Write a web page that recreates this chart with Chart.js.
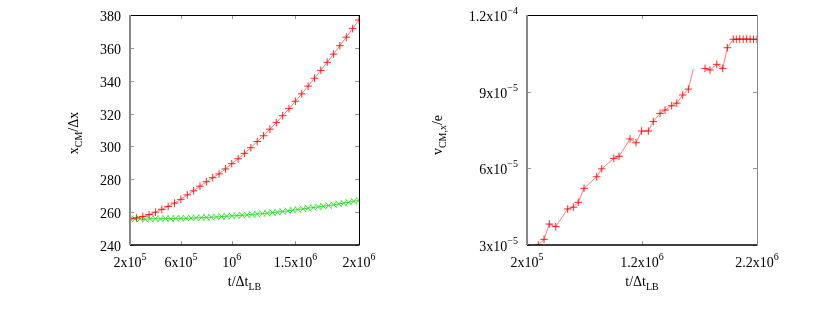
<!DOCTYPE html>
<html>
<head>
<meta charset="utf-8">
<script src="https://cdn.jsdelivr.net/npm/chart.js@4/dist/chart.umd.min.js"></script>
<style>
html,body{margin:0;padding:0;background:#fff;}
#wrap{position:relative;width:830px;height:310px;}
.box{position:absolute;top:0;width:415px;height:310px;}
</style>
</head>
<body>
<div id="wrap">
  <div class="box" style="left:0"><canvas id="c1" width="415" height="310"></canvas></div>
  <div class="box" style="left:415px"><canvas id="c2" width="415" height="310"></canvas></div>
</div>
<script>
// ---------- Left panel data ----------
const leftRedT = [2.0e5,2.5e5,3.0e5,3.5e5,4.0e5,4.5e5,5.0e5,5.5e5,6.0e5,6.5e5,7.0e5,7.5e5,8.0e5,8.5e5,9.0e5,9.5e5,
  1.0e6,1.05e6,1.1e6,1.15e6,1.2e6,1.25e6,1.3e6,1.35e6,1.4e6,1.45e6,1.5e6,1.55e6,1.6e6,1.65e6,1.7e6,1.75e6,1.8e6,1.85e6,1.9e6,1.95e6,2.0e6];
const leftRedX = [256.0,256.5,257.3,258.5,260.0,261.7,263.5,265.5,267.8,270.5,273.0,275.8,278.5,281.0,283.3,286.3,
  289.5,292.5,295.8,299.2,303.0,306.5,310.5,314.5,318.7,323.0,327.5,332.0,336.7,341.5,346.3,351.2,356.2,361.3,366.5,371.7,377.0];
const leftGreenT = [2.0e5,2.4e5,2.8e5,3.2e5,3.6e5,4.0e5,4.4e5,4.8e5,5.2e5,5.6e5,6.0e5,6.4e5,6.8e5,7.2e5,7.6e5,8.0e5,8.4e5,8.8e5,9.2e5,9.6e5,
  1.0e6,1.04e6,1.08e6,1.12e6,1.16e6,1.2e6,1.24e6,1.28e6,1.32e6,1.36e6,1.4e6,1.44e6,1.48e6,1.52e6,1.56e6,1.6e6,1.64e6,1.68e6,1.72e6,1.76e6,1.8e6,1.84e6,1.88e6,1.92e6,1.96e6,2.0e6];
const leftGreenX = [256.0,255.8,255.9,255.7,255.9,256.0,255.9,256.1,256.0,256.2,256.2,256.3,256.4,256.5,256.6,256.8,256.9,257.1,257.3,257.5,
  257.7,257.9,258.1,258.3,258.6,258.8,259.1,259.4,259.7,260.0,260.4,260.8,261.2,261.6,262.0,262.4,262.8,263.2,263.6,264.0,264.5,265.0,265.5,266.0,266.6,267.2];
const leftXTicks = [2e5, 6e5, 1e6, 1.5e6, 2e6];
const leftXTickLabels = ['2x10^5', '6x10^5', '10^6', '1.5x10^6', '2x10^6'];
const leftYTicks = [240, 260, 280, 300, 320, 340, 360, 380];
const leftYTickLabels = ['240', '260', '280', '300', '320', '340', '360', '380'];

// ---------- Right panel data ----------
const rightT = [2.98e5,3.48e5,3.94e5,4.50e5,5.54e5,6.03e5,6.46e5,6.96e5,8.06e5,8.50e5,9.55e5,1.00e6,1.096e6,1.148e6,1.197e6,1.255e6,
  1.298e6,1.357e6,1.40e6,1.458e6,1.502e6,1.554e6,1.603e6,1.646e6,1.70e6,1.748e6,1.791e6,1.850e6,1.902e6,1.942e6,1.994e6,
  2.02e6,2.05e6,2.08e6,2.11e6,2.14e6,2.17e6,2.20e6];
const rightV = [3.00e-5,3.22e-5,3.82e-5,3.72e-5,4.41e-5,4.48e-5,4.67e-5,5.22e-5,5.67e-5,5.98e-5,6.39e-5,6.47e-5,7.15e-5,7.00e-5,7.46e-5,7.46e-5,
  7.83e-5,8.15e-5,8.28e-5,8.45e-5,8.55e-5,8.87e-5,9.10e-5,9.88e-5,null,9.91e-5,9.85e-5,1.007e-4,9.91e-5,1.072e-4,1.105e-4,
  1.105e-4,1.106e-4,1.105e-4,1.106e-4,1.105e-4,1.105e-4,1.105e-4];
const rightNoMarker = [1.646e6];
const rightXTicks = [2e5, 1.2e6, 2.2e6];
const rightXTickLabels = ['2x10^5', '1.2x10^6', '2.2x10^6'];
const rightYTicks = [3e-5, 6e-5, 9e-5, 1.2e-4];
const rightYTickLabels = ['3x10^-5', '6x10^-5', '9x10^-5', '1.2x10^-4'];

const FAMILY = '"Liberation Serif", "DejaVu Serif", serif';
Chart.defaults.font.family = FAMILY;
Chart.defaults.font.size = 14;
Chart.defaults.color = '#000';

function pts(xs, ys){ return xs.map((x,i)=>({x:x, y:ys[i]})); }

// Frame + inward ticks (gnuplot style)
const framePlugin = {
  id: 'frame',
  afterDatasetsDraw(chart, args, opts){
    const ctx = chart.ctx;
    const {left, right, top, bottom} = chart.chartArea;
    const xs = chart.scales.x, ys = chart.scales.y;
    ctx.save();
    ctx.strokeStyle = '#999';
    ctx.lineWidth = 1;
    xs.ticks.forEach(t => {
      const p = Math.round(xs.getPixelForValue(t.value)) + 0.5;
      ctx.beginPath(); ctx.moveTo(p, bottom); ctx.lineTo(p, bottom - 4);
      ctx.moveTo(p, top); ctx.lineTo(p, top + 4); ctx.stroke();
    });
    ys.ticks.forEach(t => {
      const p = Math.round(ys.getPixelForValue(t.value)) + 0.5;
      ctx.beginPath(); ctx.moveTo(left, p); ctx.lineTo(left + 4, p);
      ctx.moveTo(right, p); ctx.lineTo(right - 4, p); ctx.stroke();
    });
    ctx.strokeStyle = '#000'; ctx.lineWidth = 1;
    ctx.beginPath(); ctx.moveTo(left, top + 0.5); ctx.lineTo(right, top + 0.5); ctx.stroke();
    ctx.lineWidth = 1.5;
    ctx.beginPath(); ctx.moveTo(left, bottom); ctx.lineTo(right + 0.5, bottom); ctx.stroke();
    ctx.lineWidth = 1;
    ctx.strokeStyle = opts.rightColor || '#000';
    ctx.beginPath(); ctx.moveTo(right + 0.5, top); ctx.lineTo(right + 0.5, bottom); ctx.stroke();
    ctx.strokeStyle = '#888'; ctx.lineWidth = 2;
    ctx.beginPath(); ctx.moveTo(left, top); ctx.lineTo(left, bottom); ctx.stroke();
    ctx.restore();
  }
};

// Rich text: parts [{t, sub}|{t, sup}]
const MAIN = '14px ' + FAMILY, SMALL = '10px ' + FAMILY;
function richWidth(ctx, parts){
  let w = 0;
  parts.forEach(p => { ctx.font = (p.sub || p.sup) ? SMALL : MAIN; w += ctx.measureText(p.t).width; });
  return w;
}
function drawRich(ctx, parts, x0, baseY, align){
  const w = richWidth(ctx, parts);
  let x = align === 'right' ? x0 - w : (align === 'left' ? x0 : x0 - w / 2);
  ctx.textBaseline = 'alphabetic';
  ctx.textAlign = 'left';
  parts.forEach(p => {
    ctx.font = (p.sub || p.sup) ? SMALL : MAIN;
    ctx.fillText(p.t, x, baseY + (p.sub ? 4 : 0) + (p.sup ? -7 : 0));
    x += ctx.measureText(p.t).width;
  });
}
function parsePow(s){
  const i = s.indexOf('^');
  if (i < 0) return [{t: s}];
  return [{t: s.slice(0, i)}, {t: s.slice(i + 1).replace('-', '\u2212'), sup: true}];
}

// Tick labels with true superscripts, placed at the library's tick positions
const tickLabelPlugin = {
  id: 'powTicks',
  afterDraw(chart, args, opts){
    const ctx = chart.ctx;
    const {left, bottom} = chart.chartArea;
    const xs = chart.scales.x, ys = chart.scales.y;
    ctx.save();
    ctx.fillStyle = '#000';
    xs.ticks.forEach(t => {
      const lab = opts.xLabels[opts.xValues.indexOf(t.value)];
      if (lab) drawRich(ctx, parsePow(lab), xs.getPixelForValue(t.value), bottom + 22, 'center');
    });
    ys.ticks.forEach(t => {
      const idx = opts.yValues.findIndex(v => Math.abs(v - t.value) <= Math.abs(v) * 1e-9);
      const lab = opts.yLabels[idx];
      if (lab) drawRich(ctx, parsePow(lab), left - 9, ys.getPixelForValue(t.value) + 6, 'right');
    });
    ctx.restore();
  }
};

const titlePlugin = {
  id: 'richTitles',
  afterDraw(chart, args, opts){
    const ctx = chart.ctx;
    const {left, right} = chart.chartArea;
    ctx.save();
    ctx.fillStyle = '#000';
    drawRich(ctx, opts.xParts, (left + right) / 2, opts.xBase, 'center');
    ctx.translate(opts.yBaseX, opts.yCenter);
    ctx.rotate(-Math.PI / 2);
    drawRich(ctx, opts.yParts, 0, 0, 'center');
    ctx.restore();
  }
};

function fixedTicks(values){
  return function(scale){ scale.ticks = values.map(v => ({value: v})); };
}

// ---------- Left chart ----------
new Chart(document.getElementById('c1'), {
  type: 'scatter',
  data: {
    datasets: [
      {
        data: pts(leftRedT, leftRedX), showLine: true,
        borderColor: 'rgba(255,70,70,0.7)', borderWidth: 1,
        pointStyle: 'cross', pointRadius: 3.8, pointBorderColor: 'rgba(255,0,0,0.85)', pointBorderWidth: 1,
        pointBackgroundColor: '#ff0000'
      },
      {
        data: pts(leftGreenT, leftGreenX), showLine: true,
        borderColor: 'rgba(0,220,0,0.8)', borderWidth: 1,
        pointStyle: 'crossRot', pointRadius: 4.6, pointBorderColor: 'rgba(30,225,30,0.85)', pointBorderWidth: 1,
        pointBackgroundColor: '#00e000'
      }
    ]
  },
  options: {
    responsive: false, animation: false,
    layout: { padding: { top: 15, right: 56, left: 0, bottom: 0 } },
    plugins: {
      legend: { display: false }, tooltip: { enabled: false },
      frame: {},
      powTicks: { xValues: leftXTicks, xLabels: leftXTickLabels, yValues: leftYTicks, yLabels: leftYTickLabels },
      richTitles: {
        xParts: [{t: 't/\u0394t'}, {t: 'LB', sub: true}], xBase: 286,
        yParts: [{t: 'x'}, {t: 'CM', sub: true}, {t: '/\u0394x'}], yBaseX: 78, yCenter: 133
      }
    },
    scales: {
      x: {
        type: 'linear', min: 2e5, max: 2e6,
        afterBuildTicks: fixedTicks(leftXTicks),
        afterFit(s){ s.height = 65; },
        grid: { display: false, drawTicks: false }, border: { display: false },
        ticks: { display: false, autoSkip: false }
      },
      y: {
        type: 'linear', min: 240, max: 380,
        afterBuildTicks: fixedTicks(leftYTicks),
        afterFit(s){ s.width = 130; },
        grid: { display: false, drawTicks: false }, border: { display: false },
        ticks: { display: false, autoSkip: false }
      }
    }
  },
  plugins: [framePlugin, tickLabelPlugin, titlePlugin]
});

// ---------- Right chart ----------
new Chart(document.getElementById('c2'), {
  type: 'scatter',
  data: {
    datasets: [
      {
        data: pts(rightT, rightV), showLine: true, spanGaps: false,
        borderColor: 'rgba(255,70,70,0.7)', borderWidth: 1,
        pointStyle: 'cross',
        pointRadius: rightT.map(t => rightNoMarker.includes(t) ? 0 : 3.8),
        pointBorderColor: 'rgba(255,0,0,0.85)', pointBorderWidth: 1, pointBackgroundColor: '#ff0000'
      }
    ]
  },
  options: {
    responsive: false, animation: false,
    layout: { padding: { top: 15, right: 73, left: 0, bottom: 0 } },
    plugins: {
      legend: { display: false }, tooltip: { enabled: false },
      frame: { rightColor: '#888' },
      powTicks: { xValues: rightXTicks, xLabels: rightXTickLabels, yValues: rightYTicks, yLabels: rightYTickLabels },
      richTitles: {
        xParts: [{t: 't/\u0394t'}, {t: 'LB', sub: true}], xBase: 286,
        yParts: [{t: 'v'}, {t: 'CM,x', sub: true}, {t: '/e'}], yBaseX: 442 - 415, yCenter: 135
      }
    },
    scales: {
      x: {
        type: 'linear', min: 2e5, max: 2.2e6,
        afterBuildTicks: fixedTicks(rightXTicks),
        afterFit(s){ s.height = 65; },
        grid: { display: false, drawTicks: false }, border: { display: false },
        ticks: { display: false, autoSkip: false }
      },
      y: {
        type: 'linear', min: 3e-5, max: 1.2e-4,
        afterBuildTicks: fixedTicks(rightYTicks),
        afterFit(s){ s.width = 112; },
        grid: { display: false, drawTicks: false }, border: { display: false },
        ticks: { display: false, autoSkip: false }
      }
    }
  },
  plugins: [framePlugin, tickLabelPlugin, titlePlugin]
});
</script>
</body>
</html>
